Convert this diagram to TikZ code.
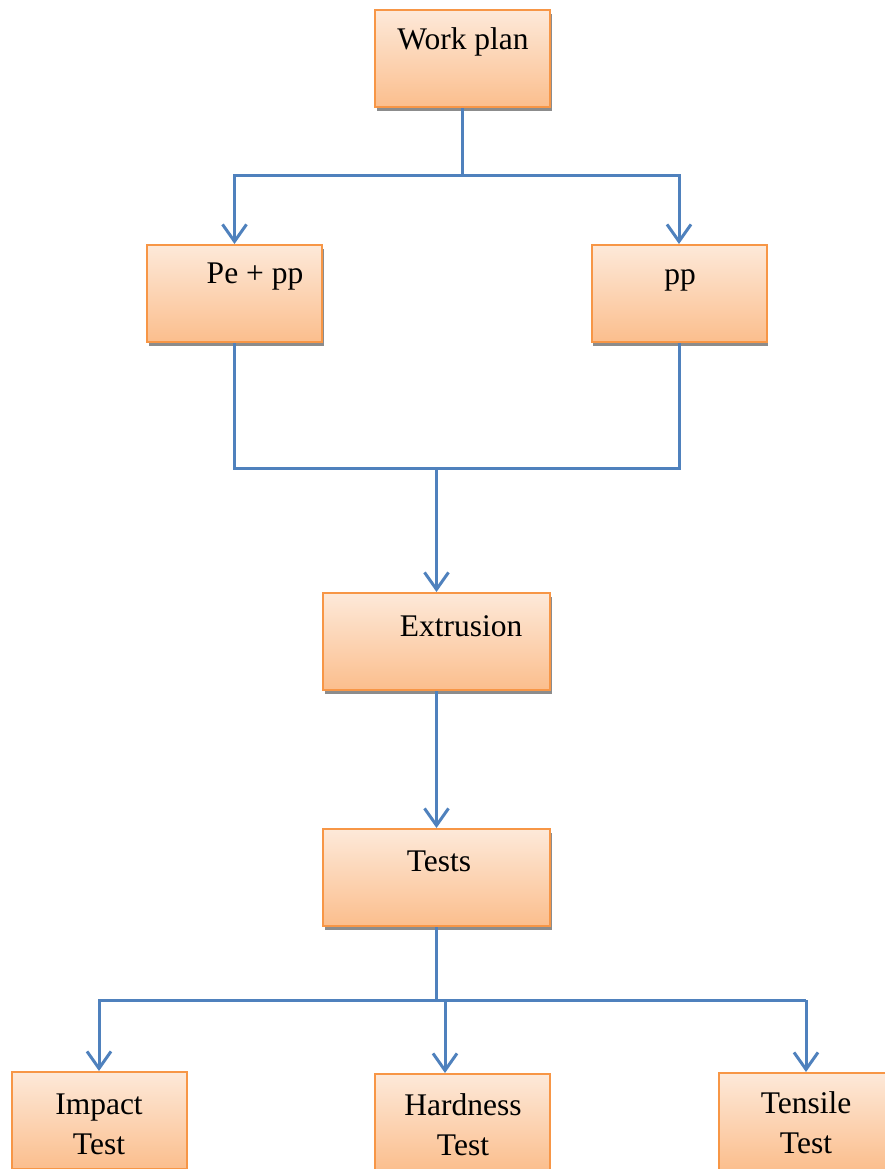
\documentclass[tikz,border=0pt]{standalone}
\usepackage{fontspec}
\setmainfont{Liberation Serif}
\usetikzlibrary{arrows.meta,shadows}

\definecolor{boxtop}{RGB}{253,233,217}
\definecolor{boxbot}{RGB}{251,190,141}
\definecolor{boxline}{RGB}{247,150,70}
\definecolor{connblue}{RGB}{79,129,189}

\tikzset{
	blok/.style={draw=boxline, line width=2pt, top color=boxtop, bottom color=boxbot,
		minimum width=175pt, minimum height=97pt, inner sep=0pt,
		drop shadow={shadow xshift=1.5pt, shadow yshift=-4pt, fill=black!45, opacity=1}},
	lbl/.style={inner sep=0pt, align=center, font=\fontsize{31.5}{40}\selectfont},
	conn/.style={draw=connblue, line width=3pt},
	arr/.style={conn, -{Straight Barb[length=17pt,width=24pt]}}
}

\begin{document}
\begin{tikzpicture}[x=1pt,y=-1pt]
	\useasboundingbox (0,0) rectangle (885,1169);
	% boxes
	\node[blok] (work) at (462.5,59) {};
	\node[blok] (pepp) at (234.5,293.5) {};
	\node[blok] (pp) at (679,293.5) {};
	\node[blok, minimum width=227pt] (extr) at (436.5,641.5) {};
	\node[blok, minimum width=227pt] (tests) at (436.5,877.5) {};
	\node[blok] (impact) at (99,1120.5) {};
	\node[blok] (hard) at (462,1122.5) {};
	\node[blok, minimum width=200pt, anchor=north west] (tens) at (718,1072) {};
	% labels
	\node[lbl] (work-t) at (463,42) {Work plan};
	\node[lbl] (pepp-t) at (255,277) {Pe + pp};
	\node[lbl] (pp-t) at (680,280) {pp};
	\node[lbl] (extr-t) at (461,626) {Extrusion};
	\node[lbl] (tests-t) at (439,861) {Tests};
	\node[lbl] (impact-t) at (99,1124) {Impact\\Test};
	\node[lbl] (hard-t) at (463,1125) {Hardness\\Test};
	\node[lbl] (tens-t) at (806,1123) {Tensile\\Test};
	% connectors
	\coordinate (s1) at (462.5,176);
	\draw[conn] (work.south) -- (s1);
	\draw[arr] (s1) -| (pepp.north);
	\draw[arr] (s1) -| (pp.north);
	\coordinate (m1) at (436.5,468);
	\draw[conn] (pepp.south) |- (m1) -| (pp.south);
	\draw[arr] (m1) -- (extr.north);
	\draw[arr] (extr.south) -- (tests.north);
	\coordinate (m2) at (436.5,1000);
	\coordinate (m3) at (445,1000);
	\coordinate (m4) at (806,1000);
	\draw[conn] (tests.south) -- (m2);
	\draw[arr] (m2) -| (impact.north);
	\draw[conn] (m2) -- (m4);
	\draw[arr] (m4) -- (m4 |- tens.north);
	\draw[arr] (m3) -- (m3 |- hard.north);
\end{tikzpicture}
\end{document}
